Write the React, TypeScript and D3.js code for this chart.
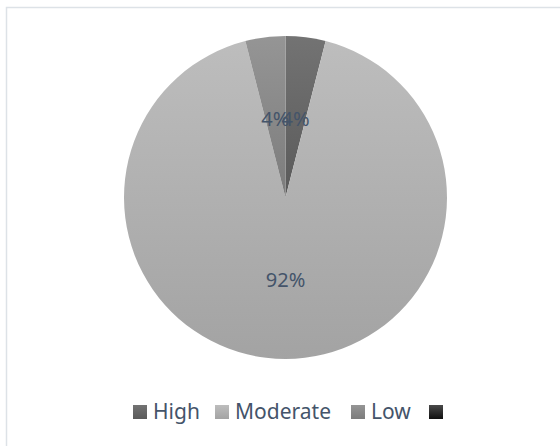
import React from "react";
import * as d3 from "d3";

const categories = ["High", "Moderate", "Low", ""];
const values = [4, 92, 4, 0];
const labels = ["4%", "92%", "4%", ""];
const topColors = ["#737373", "#bdbdbd", "#959595", "#4a4a4a"];
const bottomColors = ["#5a5a5a", "#a3a3a3", "#7c7c7c", "#101010"];

const W = 560;
const H = 446;
const cx = 285.5;
const cy = 197.5;
const R = 161.5;

export default function App() {
  const pie = d3.pie<number>().sort(null).value((d) => d)(values);
  const arc = d3.arc<d3.PieArcDatum<number>>().innerRadius(0).outerRadius(R);
  const legendX = [133, 215, 351, 429];
  const font = "'Noto Sans', 'Open Sans', sans-serif";
  return (
    <svg
      width={W}
      height={H}
      style={{ position: "absolute", left: 0, top: 0, background: "#fff" }}
    >
      <defs>
        {categories.map((c, i) => (
          <linearGradient key={i} id={`g${i}`} x1="0" y1="0" x2="0" y2="1">
            <stop offset="0" stopColor={topColors[i]} />
            <stop offset="1" stopColor={bottomColors[i]} />
          </linearGradient>
        ))}
      </defs>
      <rect x={6.5} y={7.5} width={W + 10} height={H + 10} fill="#fff" stroke="#dde2e7" strokeWidth={1.5} />
      <g transform={`translate(${cx},${cy})`}>
        {pie.map((p, i) =>
          p.value > 0 ? <path key={i} d={arc(p) || ""} fill={`url(#g${i})`} /> : null
        )}
        {pie.map((p, i) => {
          if (p.value <= 0) return null;
          const [x, y] = arc.centroid(p);
          return (
            <text
              key={"l" + i}
              x={x}
              y={y + 1}
              textAnchor="middle"
              dominantBaseline="central"
              fontFamily={font}
              fontSize={20}
              fill="#44546a"
            >
              {labels[i]}
            </text>
          );
        })}
      </g>
      <g>
        {categories.map((c, i) => (
          <g key={i}>
            <rect x={legendX[i]} y={405} width={14} height={14} fill={`url(#g${i})`} />
            <text x={legendX[i] + 20} y={419} fontFamily={font} fontSize={21} fill="#44546a">
              {c}
            </text>
          </g>
        ))}
      </g>
    </svg>
  );
}
